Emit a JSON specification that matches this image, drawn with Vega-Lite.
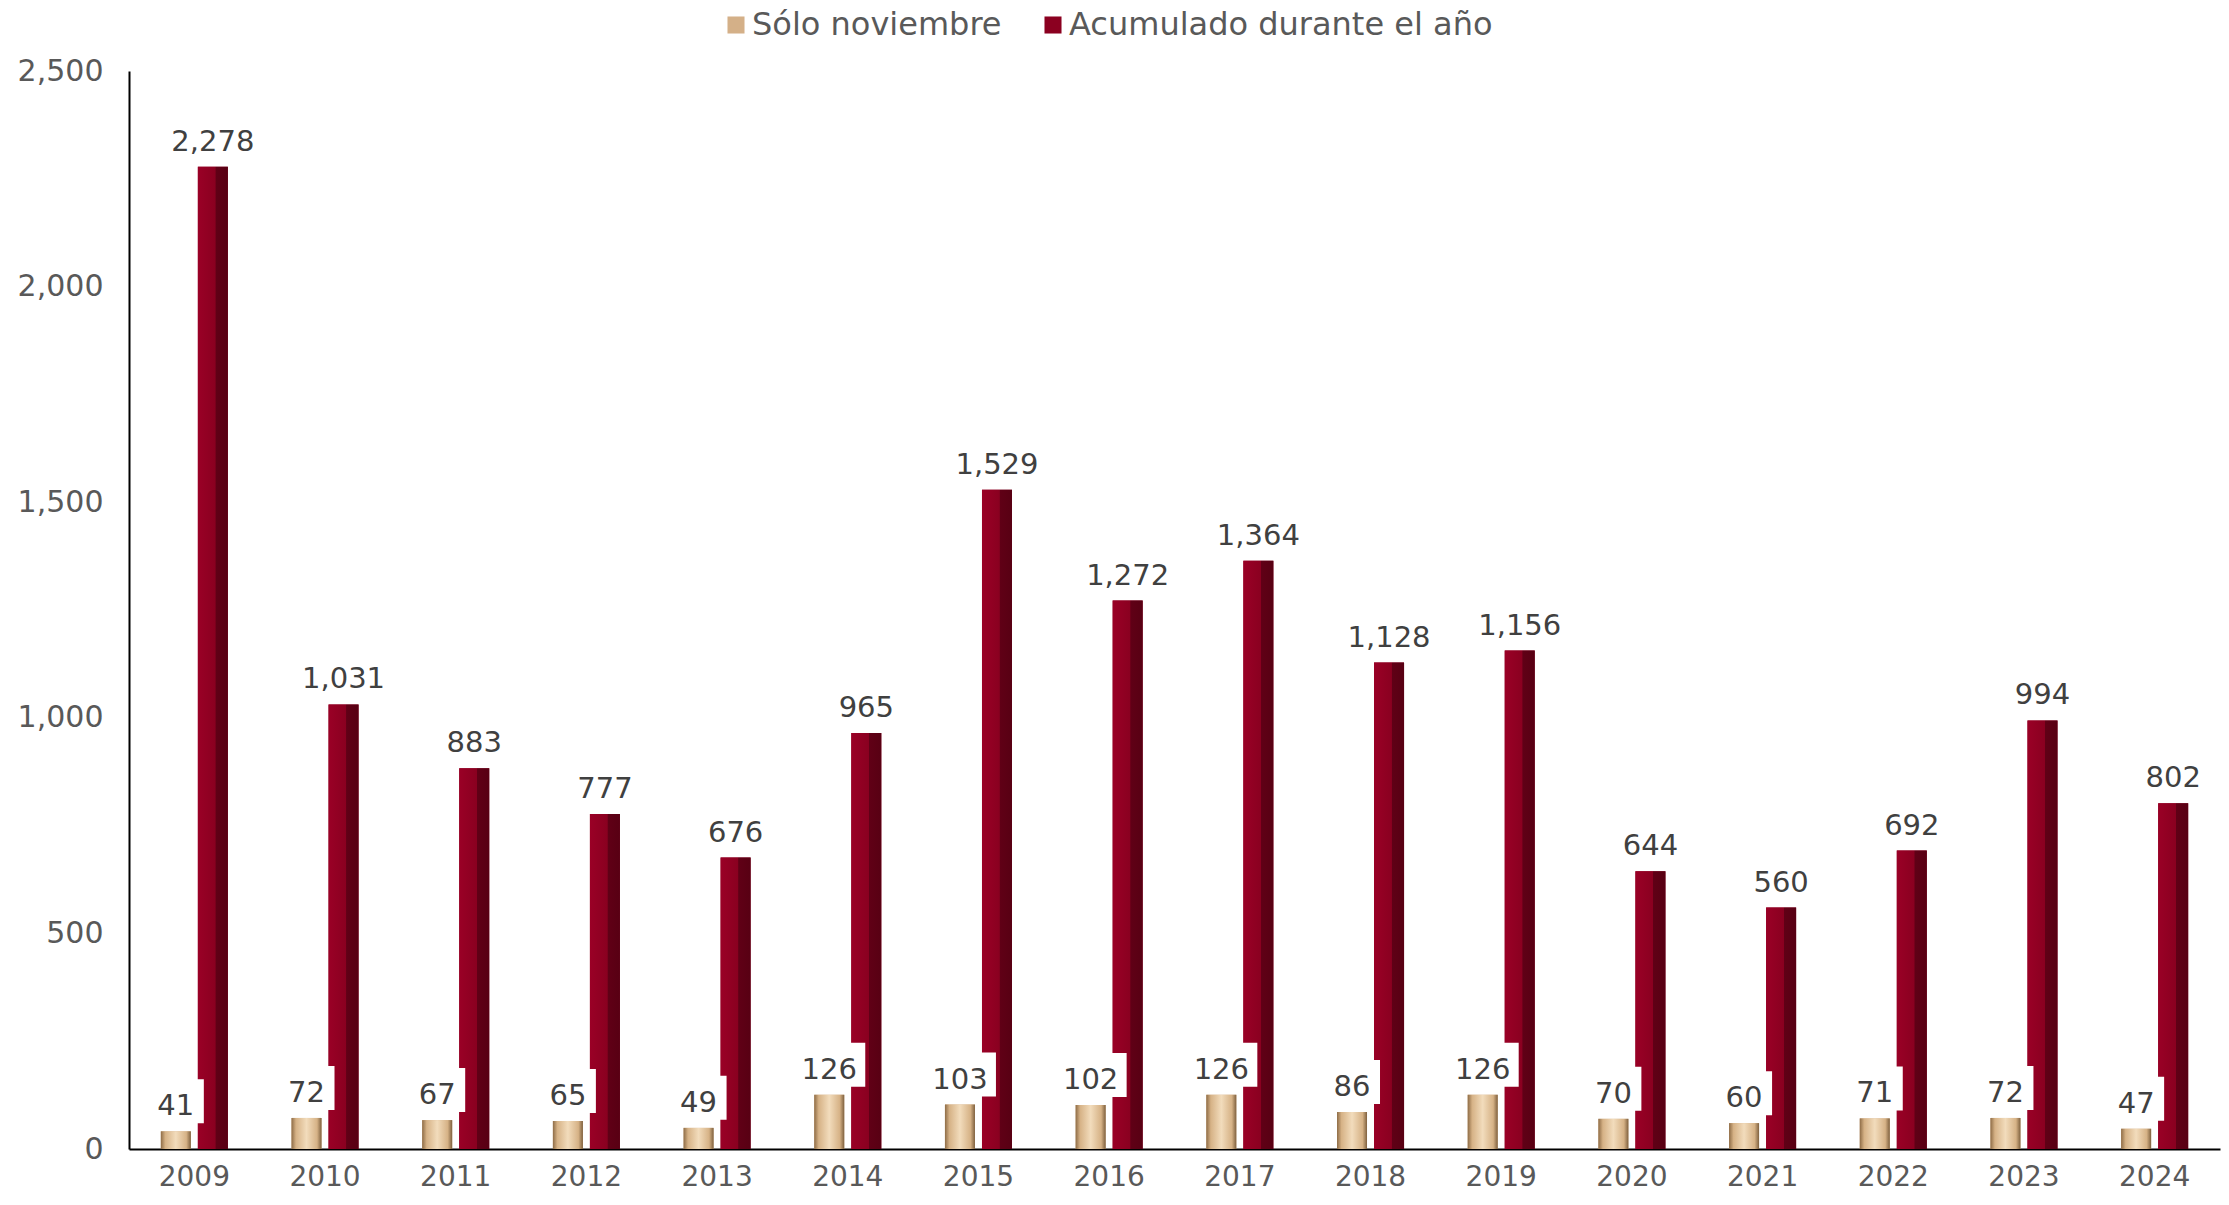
{
  "$schema": "https://vega.github.io/schema/vega-lite/v6.json",
  "autosize": {"type": "none"},
  "width": 2091,
  "height": 1078,
  "padding": {"left": 129, "top": 71, "right": 9, "bottom": 56},
  "background": "white",
  "config": {
    "font": "DejaVu Sans",
    "view": {"stroke": null},
    "axis": {"labelFont": "DejaVu Sans", "labelColor": "#595959", "labelFontSize": 28, "ticks": false, "grid": false, "domainColor": "#000000", "domainWidth": 2, "title": null}
  },
  "data": {
    "values": [
      {"year": "2009", "series": "Sólo noviembre", "value": 41},
      {"year": "2010", "series": "Sólo noviembre", "value": 72},
      {"year": "2011", "series": "Sólo noviembre", "value": 67},
      {"year": "2012", "series": "Sólo noviembre", "value": 65},
      {"year": "2013", "series": "Sólo noviembre", "value": 49},
      {"year": "2014", "series": "Sólo noviembre", "value": 126},
      {"year": "2015", "series": "Sólo noviembre", "value": 103},
      {"year": "2016", "series": "Sólo noviembre", "value": 102},
      {"year": "2017", "series": "Sólo noviembre", "value": 126},
      {"year": "2018", "series": "Sólo noviembre", "value": 86},
      {"year": "2019", "series": "Sólo noviembre", "value": 126},
      {"year": "2020", "series": "Sólo noviembre", "value": 70},
      {"year": "2021", "series": "Sólo noviembre", "value": 60},
      {"year": "2022", "series": "Sólo noviembre", "value": 71},
      {"year": "2023", "series": "Sólo noviembre", "value": 72},
      {"year": "2024", "series": "Sólo noviembre", "value": 47},
      {"year": "2009", "series": "Acumulado durante el año", "value": 2278},
      {"year": "2010", "series": "Acumulado durante el año", "value": 1031},
      {"year": "2011", "series": "Acumulado durante el año", "value": 883},
      {"year": "2012", "series": "Acumulado durante el año", "value": 777},
      {"year": "2013", "series": "Acumulado durante el año", "value": 676},
      {"year": "2014", "series": "Acumulado durante el año", "value": 965},
      {"year": "2015", "series": "Acumulado durante el año", "value": 1529},
      {"year": "2016", "series": "Acumulado durante el año", "value": 1272},
      {"year": "2017", "series": "Acumulado durante el año", "value": 1364},
      {"year": "2018", "series": "Acumulado durante el año", "value": 1128},
      {"year": "2019", "series": "Acumulado durante el año", "value": 1156},
      {"year": "2020", "series": "Acumulado durante el año", "value": 644},
      {"year": "2021", "series": "Acumulado durante el año", "value": 560},
      {"year": "2022", "series": "Acumulado durante el año", "value": 692},
      {"year": "2023", "series": "Acumulado durante el año", "value": 994},
      {"year": "2024", "series": "Acumulado durante el año", "value": 802}
    ]
  },
  "encoding": {
    "x": {"field": "year", "type": "nominal", "scale": {"paddingInner": 0.487, "paddingOuter": 0.2435}, "axis": {"labelAngle": 0, "labelPadding": 14}},
    "xOffset": {"field": "series", "type": "nominal", "scale": {"domain": ["Sólo noviembre", "Acumulado durante el año"], "paddingInner": 0.19, "paddingOuter": 0}},
    "y": {"field": "value", "type": "quantitative", "scale": {"domain": [0, 2500], "nice": false}, "axis": {"values": [0, 500, 1000, 1500, 2000, 2500], "format": ",d", "labelPadding": 26, "labelFontSize": 30}}
  },
  "layer": [
    {
      "mark": {"type": "bar"},
      "encoding": {
        "color": {"field": "series", "type": "nominal",
          "scale": {"domain": ["Sólo noviembre", "Acumulado durante el año"], "range": ["#D4B088", "#8B0020"]},
          "legend": {"orient": "none", "legendX": 591, "legendY": -62, "direction": "horizontal", "title": null, "symbolType": "square", "symbolSize": 290, "labelFontSize": 32, "labelColor": "#595959", "labelFont": "DejaVu Sans", "labelLimit": 0, "columnPadding": 35, "labelOffset": 0, "symbolStrokeWidth": 0}
        }
      }
    },
    {
      "transform": [{"filter": "datum.series === 'Sólo noviembre'"}],
      "mark": {"type": "bar", "color": {"gradient": "linear", "x1": 0, "x2": 1, "y1": 0, "y2": 0, "stops": [{"offset": 0, "color": "#8E6C46"}, {"offset": 0.15, "color": "#D6B286"}, {"offset": 0.5, "color": "#F2DCBC"}, {"offset": 0.85, "color": "#D6B286"}, {"offset": 1, "color": "#7E603E"}]}}
    },
    {
      "transform": [{"filter": "datum.series === 'Acumulado durante el año'"}],
      "mark": {"type": "bar", "color": {"gradient": "linear", "x1": 0, "x2": 1, "y1": 0, "y2": 0, "stops": [{"offset": 0, "color": "#9A0026"}, {"offset": 0.58, "color": "#8A0020"}, {"offset": 0.6, "color": "#600016"}, {"offset": 1, "color": "#580013"}]}}
    },
    {
      "transform": [{"filter": "datum.series === 'Acumulado durante el año'"}],
      "mark": {"type": "text", "baseline": "alphabetic", "dy": -16, "fontSize": 29, "color": "#404040", "font": "DejaVu Sans"},
      "encoding": {"text": {"field": "value", "type": "quantitative", "format": ","}}
    },
    {
      "transform": [{"filter": "datum.series === 'Sólo noviembre'"}],
      "mark": {"type": "tick", "color": "white", "opacity": 1, "thickness": 44, "yOffset": -30},
      "encoding": {"size": {"field": "value", "type": "quantitative", "scale": {"type": "threshold", "domain": [100], "range": [56, 72]}, "legend": null}}
    },
    {
      "transform": [{"filter": "datum.series === 'Sólo noviembre'"}],
      "mark": {"type": "text", "baseline": "alphabetic", "dy": -16, "fontSize": 29, "color": "#404040", "font": "DejaVu Sans"},
      "encoding": {"text": {"field": "value", "type": "quantitative", "format": ","}}
    }
  ]
}
